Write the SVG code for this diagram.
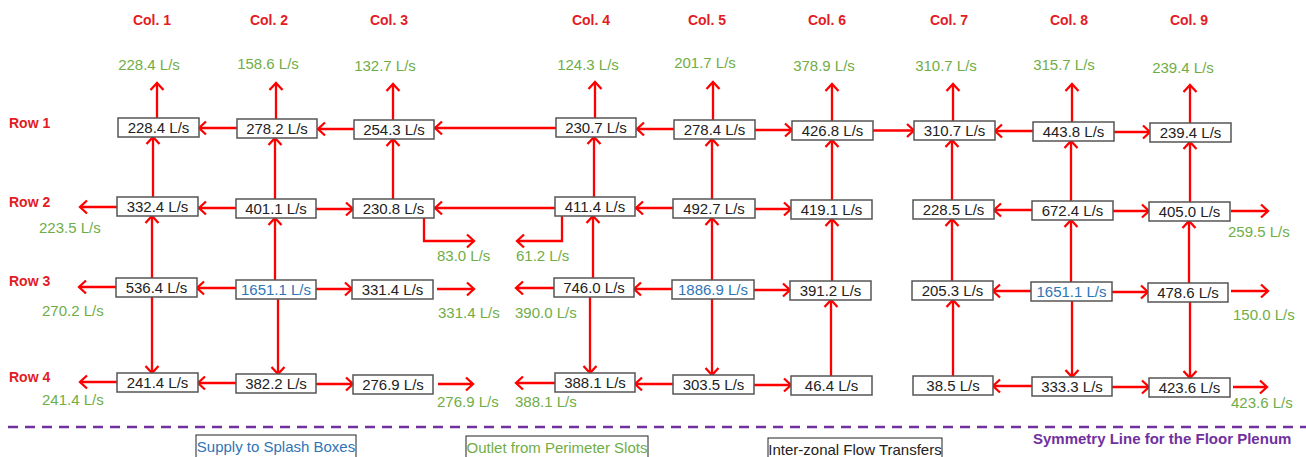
<svg xmlns="http://www.w3.org/2000/svg" width="1306" height="457" viewBox="0 0 1306 457">
<style>
.bx{fill:#fff;stroke:#555;stroke-width:1.5}
.bt{font-family:"Liberation Sans",Arial,sans-serif;font-size:15px;fill:#222;text-anchor:middle}
.blue{fill:#2e75b6}
.g{font-family:"Liberation Sans",Arial,sans-serif;font-size:15px;fill:#70ad47}
.gm{text-anchor:middle}
.hd{font-family:"Liberation Sans",Arial,sans-serif;font-size:14px;font-weight:bold;fill:#e31b23}
.hc{text-anchor:middle}
.c path{fill:none;stroke:#f00;stroke-width:2.3;marker-end:url(#ah)}
.lg{fill:#fff;stroke:#222;stroke-width:1}
</style>
<defs>
<marker id="ah" markerUnits="userSpaceOnUse" markerWidth="20" markerHeight="20" viewBox="-10 -10 20 20" refX="0" refY="0" orient="auto">
<path d="M-7,-6.5 L0,0 L-7,6.5" fill="none" stroke="#f00" stroke-width="2.3"/>
</marker>
</defs>
<rect width="1306" height="457" fill="#fff"/>

<g id="headers">
<text class="hd hc" x="152" y="25">Col. 1</text>
<text class="hd hc" x="269" y="25">Col. 2</text>
<text class="hd hc" x="389" y="25">Col. 3</text>
<text class="hd hc" x="591" y="25">Col. 4</text>
<text class="hd hc" x="707" y="25">Col. 5</text>
<text class="hd hc" x="827" y="25">Col. 6</text>
<text class="hd hc" x="949" y="25">Col. 7</text>
<text class="hd hc" x="1069" y="25">Col. 8</text>
<text class="hd hc" x="1189" y="25">Col. 9</text>
<text class="hd" x="9" y="128">Row 1</text>
<text class="hd" x="9" y="207">Row 2</text>
<text class="hd" x="9" y="286">Row 3</text>
<text class="hd" x="9" y="382">Row 4</text>
</g>

<g id="connectors" class="c">
<path d="M157,118V83"/>
<path d="M276,119V83"/>
<path d="M393,120V84"/>
<path d="M595,118V82"/>
<path d="M713,120V82"/>
<path d="M832,121V84"/>
<path d="M953,121V84"/>
<path d="M1072,122V84"/>
<path d="M1190,123V85"/>
<path d="M237,128H199"/>
<path d="M354,129H318"/>
<path d="M556,128H435"/>
<path d="M674,129H637"/>
<path d="M755,130H792"/>
<path d="M873,130.5H914"/>
<path d="M1033,131H995"/>
<path d="M1114,132H1150"/>
<path d="M153,197V137"/>
<path d="M275,199V138"/>
<path d="M393,199V139"/>
<path d="M594,197V137"/>
<path d="M712,199V139"/>
<path d="M832,200V140"/>
<path d="M952,200V140"/>
<path d="M1071,201V141"/>
<path d="M1190,202V142"/>
<path d="M117,207H80"/>
<path d="M236,208H199"/>
<path d="M316,209H353"/>
<path d="M555,208H435"/>
<path d="M673,208H636"/>
<path d="M755,209H791"/>
<path d="M1032,210H994"/>
<path d="M1113,211H1149"/>
<path d="M1231,211H1268"/>
<path d="M424,218V241H474"/>
<path d="M562,216V241H517"/>
<path d="M152,278V216"/>
<path d="M275,280V218"/>
<path d="M593,278V216"/>
<path d="M712,280V218"/>
<path d="M832,281V219"/>
<path d="M952,281V219"/>
<path d="M1071,282V220"/>
<path d="M1189,283V221"/>
<path d="M116,287H79"/>
<path d="M236,288H197"/>
<path d="M316,289H352"/>
<path d="M437,289H474"/>
<path d="M554,288H516"/>
<path d="M672,289H634"/>
<path d="M754,290H790"/>
<path d="M1031,291H993"/>
<path d="M1112,292H1148"/>
<path d="M1231,291H1268"/>
<path d="M152,297V373"/>
<path d="M278,299V374"/>
<path d="M590,297V373"/>
<path d="M712,299V375"/>
<path d="M831,376V300"/>
<path d="M953,376V300"/>
<path d="M1072,301V377"/>
<path d="M1190,302V378"/>
<path d="M117,382H80"/>
<path d="M236,383H198"/>
<path d="M316,384H353"/>
<path d="M438,384H473"/>
<path d="M555,383H516"/>
<path d="M673,384H635"/>
<path d="M754,385H791"/>
<path d="M1032,386H993"/>
<path d="M1112,387H1149"/>
<path d="M1233,387H1267"/>
</g>

<g id="r1c1"><rect class="bx" x="118" y="118" width="81" height="19"/><text class="bt" x="158.5" y="133">228.4 L/s</text></g>
<g id="r1c2"><rect class="bx" x="237" y="119" width="80" height="19"/><text class="bt" x="277" y="134">278.2 L/s</text></g>
<g id="r1c3"><rect class="bx" x="354" y="120" width="80" height="19"/><text class="bt" x="394" y="135">254.3 L/s</text></g>
<g id="r1c4"><rect class="bx" x="556" y="118" width="80" height="19"/><text class="bt" x="596" y="133">230.7 L/s</text></g>
<g id="r1c5"><rect class="bx" x="674" y="120" width="81" height="19"/><text class="bt" x="714.5" y="135">278.4 L/s</text></g>
<g id="r1c6"><rect class="bx" x="792" y="121" width="81" height="19"/><text class="bt" x="832.5" y="136">426.8 L/s</text></g>
<g id="r1c7"><rect class="bx" x="914" y="121" width="81" height="19"/><text class="bt" x="954.5" y="136">310.7 L/s</text></g>
<g id="r1c8"><rect class="bx" x="1033" y="122" width="81" height="19"/><text class="bt" x="1073.5" y="137">443.8 L/s</text></g>
<g id="r1c9"><rect class="bx" x="1150" y="123" width="81" height="19"/><text class="bt" x="1190.5" y="138">239.4 L/s</text></g>

<g id="r2c1"><rect class="bx" x="117" y="197" width="81" height="19"/><text class="bt" x="157.5" y="212">332.4 L/s</text></g>
<g id="r2c2"><rect class="bx" x="236" y="199" width="80" height="19"/><text class="bt" x="276" y="214">401.1 L/s</text></g>
<g id="r2c3"><rect class="bx" x="353" y="199" width="81" height="19"/><text class="bt" x="393.5" y="214">230.8 L/s</text></g>
<g id="r2c4"><rect class="bx" x="555" y="197" width="80" height="19"/><text class="bt" x="595" y="212">411.4 L/s</text></g>
<g id="r2c5"><rect class="bx" x="673" y="199" width="82" height="19"/><text class="bt" x="714" y="214">492.7 L/s</text></g>
<g id="r2c6"><rect class="bx" x="791" y="200" width="81" height="19"/><text class="bt" x="831.5" y="215">419.1 L/s</text></g>
<g id="r2c7"><rect class="bx" x="913" y="200" width="81" height="19"/><text class="bt" x="953.5" y="215">228.5 L/s</text></g>
<g id="r2c8"><rect class="bx" x="1032" y="201" width="81" height="19"/><text class="bt" x="1072.5" y="216">672.4 L/s</text></g>
<g id="r2c9"><rect class="bx" x="1149" y="202" width="81" height="19"/><text class="bt" x="1189.5" y="217">405.0 L/s</text></g>

<g id="r3c1"><rect class="bx" x="116" y="278" width="81" height="19"/><text class="bt" x="156.5" y="293">536.4 L/s</text></g>
<g id="r3c2"><rect class="bx" x="236" y="280" width="80" height="19"/><text class="bt blue" x="276" y="295">1651.1 L/s</text></g>
<g id="r3c3"><rect class="bx" x="352" y="280" width="81" height="19"/><text class="bt" x="392.5" y="295">331.4 L/s</text></g>
<g id="r3c4"><rect class="bx" x="554" y="278" width="80" height="19"/><text class="bt" x="594" y="293">746.0 L/s</text></g>
<g id="r3c5"><rect class="bx" x="672" y="280" width="82" height="19"/><text class="bt blue" x="713" y="295">1886.9 L/s</text></g>
<g id="r3c6"><rect class="bx" x="790" y="281" width="81" height="19"/><text class="bt" x="830.5" y="296">391.2 L/s</text></g>
<g id="r3c7"><rect class="bx" x="912" y="281" width="81" height="19"/><text class="bt" x="952.5" y="296">205.3 L/s</text></g>
<g id="r3c8"><rect class="bx" x="1031" y="282" width="81" height="19"/><text class="bt blue" x="1071.5" y="297">1651.1 L/s</text></g>
<g id="r3c9"><rect class="bx" x="1148" y="283" width="80" height="19"/><text class="bt" x="1188" y="298">478.6 L/s</text></g>

<g id="r4c1"><rect class="bx" x="117" y="373" width="81" height="19"/><text class="bt" x="157.5" y="388">241.4 L/s</text></g>
<g id="r4c2"><rect class="bx" x="236" y="374" width="80" height="19"/><text class="bt" x="276" y="389">382.2 L/s</text></g>
<g id="r4c3"><rect class="bx" x="353" y="375" width="80" height="19"/><text class="bt" x="393" y="390">276.9 L/s</text></g>
<g id="r4c4"><rect class="bx" x="555" y="373" width="80" height="19"/><text class="bt" x="595" y="388">388.1 L/s</text></g>
<g id="r4c5"><rect class="bx" x="673" y="375" width="81" height="19"/><text class="bt" x="713.5" y="390">303.5 L/s</text></g>
<g id="r4c6"><rect class="bx" x="791" y="376" width="81" height="19"/><text class="bt" x="831.5" y="391">46.4 L/s</text></g>
<g id="r4c7"><rect class="bx" x="913" y="376" width="80" height="19"/><text class="bt" x="953" y="391">38.5 L/s</text></g>
<g id="r4c8"><rect class="bx" x="1032" y="377" width="80" height="19"/><text class="bt" x="1072" y="392">333.3 L/s</text></g>
<g id="r4c9"><rect class="bx" x="1149" y="378" width="81" height="19"/><text class="bt" x="1189.5" y="393">423.6 L/s</text></g>

<g id="outlets">
<text class="g gm" x="149" y="70">228.4 L/s</text>
<text class="g gm" x="268" y="69">158.6 L/s</text>
<text class="g gm" x="385" y="71">132.7 L/s</text>
<text class="g gm" x="588" y="70">124.3 L/s</text>
<text class="g gm" x="705" y="68">201.7 L/s</text>
<text class="g gm" x="824" y="71">378.9 L/s</text>
<text class="g gm" x="946" y="71">310.7 L/s</text>
<text class="g gm" x="1064" y="70">315.7 L/s</text>
<text class="g gm" x="1183" y="73">239.4 L/s</text>
<text class="g" x="39" y="233">223.5 L/s</text>
<text class="g" x="42" y="316">270.2 L/s</text>
<text class="g" x="42" y="405">241.4 L/s</text>
<text class="g" x="437" y="261">83.0 L/s</text>
<text class="g" x="516" y="261">61.2 L/s</text>
<text class="g" x="438" y="318">331.4 L/s</text>
<text class="g" x="515" y="318">390.0 L/s</text>
<text class="g" x="437" y="407">276.9 L/s</text>
<text class="g" x="515" y="407">388.1 L/s</text>
<text class="g" x="1228" y="237">259.5 L/s</text>
<text class="g" x="1233" y="320">150.0 L/s</text>
<text class="g" x="1231" y="408">423.6 L/s</text>
</g>

<g id="symmetry">
<line x1="8" y1="427" x2="1306" y2="427" stroke="#7030a0" stroke-width="2.5" stroke-dasharray="10 7"/>
<text x="1033" y="444" font-family="Liberation Sans, Arial, sans-serif" font-size="15" font-weight="bold" fill="#7030a0">Symmetry Line for the Floor Plenum</text>
</g>

<g id="legend">
<rect class="lg" x="196" y="435" width="160" height="25"/>
<text class="bt blue" x="276" y="452">Supply to Splash Boxes</text>
<rect class="lg" x="466" y="436" width="182" height="25"/>
<text class="g gm" x="557" y="453">Outlet from Perimeter Slots</text>
<rect class="lg" x="768" y="438" width="174" height="25"/>
<text class="bt" x="855" y="455">Inter-zonal Flow Transfers</text>
</g>
</svg>
